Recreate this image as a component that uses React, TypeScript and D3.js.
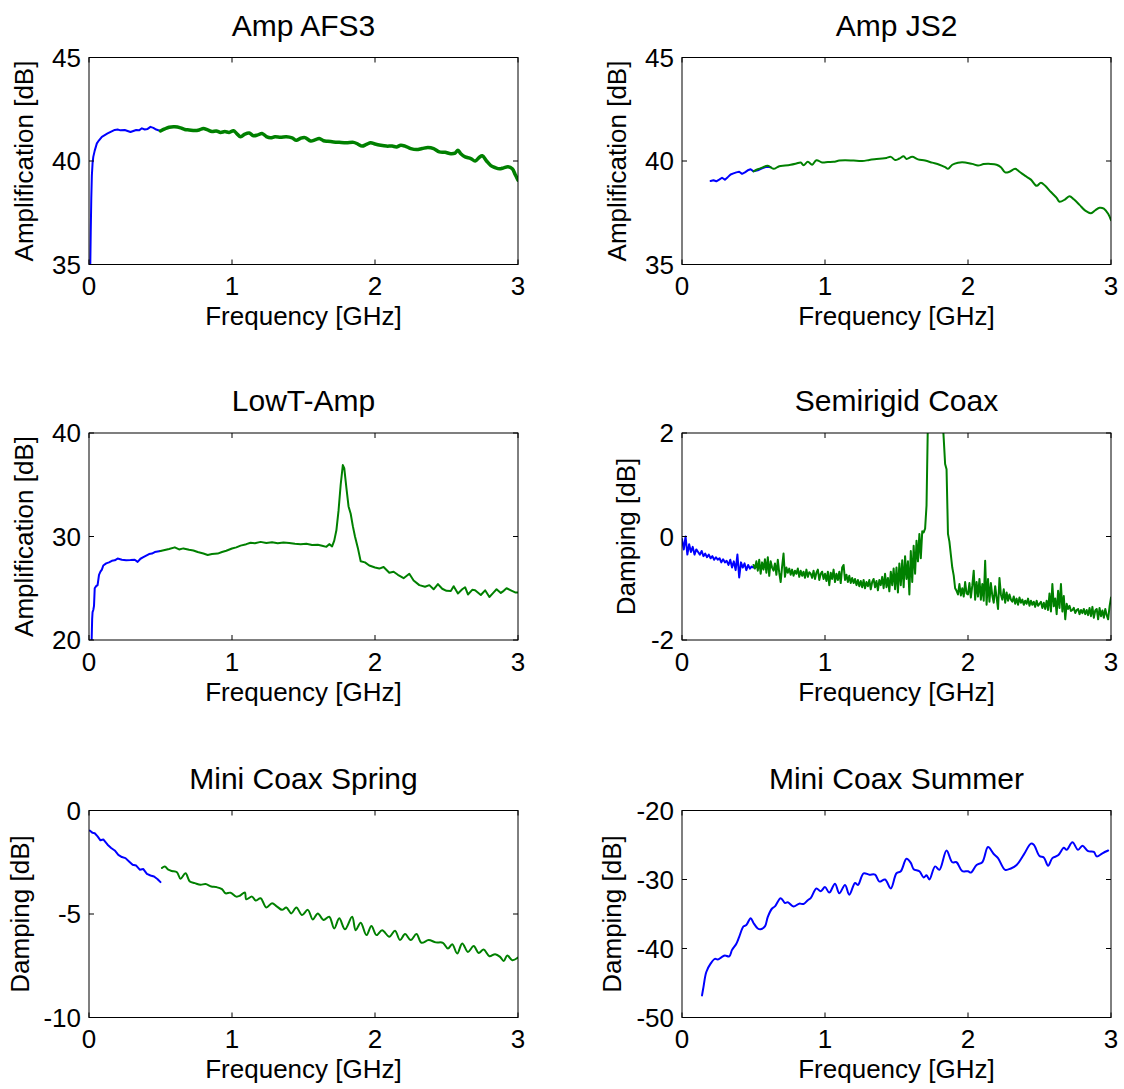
import React from 'react';
import * as d3 from 'd3';

type Pt = [number, number];

const xTicks = [0, 1, 2, 3];

// ---- Amp AFS3 ----
const afs3Blue: Pt[] = [[0.008,34.5],[0.012,36.5],[0.016,38.2],[0.02,39.3],[0.025,39.9],[0.03,40.2],[0.04,40.5],[0.055,40.85],[0.07,41.0],[0.09,41.17],[0.11,41.25],[0.13,41.33],[0.155,41.42],[0.18,41.5],[0.2,41.52],[0.22,41.48],[0.25,41.5],[0.27,41.45],[0.29,41.4],[0.31,41.45],[0.33,41.5],[0.35,41.48],[0.37,41.58],[0.39,41.52],[0.41,41.55],[0.43,41.65],[0.45,41.6],[0.47,41.52],[0.5,41.45]];
const afs3Green: Pt[] = [[0.5,41.45],[0.53,41.55],[0.56,41.63],[0.6,41.65],[0.64,41.6],[0.67,41.52],[0.7,41.5],[0.74,41.47],[0.77,41.5],[0.8,41.57],[0.83,41.5],[0.86,41.42],[0.89,41.45],[0.92,41.38],[0.95,41.42],[0.98,41.38],[1.01,41.46],[1.03,41.35],[1.06,41.17],[1.09,41.3],[1.12,41.35],[1.15,41.22],[1.18,41.26],[1.21,41.33],[1.24,41.18],[1.27,41.12],[1.3,41.17],[1.34,41.15],[1.38,41.17],[1.42,41.12],[1.45,41.0],[1.48,41.1],[1.51,41.13],[1.55,40.97],[1.58,41.02],[1.61,41.09],[1.64,40.98],[1.67,40.95],[1.71,40.92],[1.75,40.9],[1.8,40.88],[1.85,40.9],[1.88,40.82],[1.91,40.72],[1.94,40.8],[1.97,40.88],[2.0,40.82],[2.04,40.76],[2.08,40.72],[2.12,40.72],[2.15,40.68],[2.18,40.76],[2.21,40.72],[2.25,40.6],[2.29,40.55],[2.33,40.6],[2.37,40.65],[2.41,40.6],[2.45,40.44],[2.49,40.42],[2.53,40.35],[2.56,40.38],[2.58,40.52],[2.6,40.35],[2.63,40.2],[2.67,40.12],[2.7,40.0],[2.73,40.18],[2.75,40.25],[2.78,40.0],[2.81,39.78],[2.84,39.68],[2.87,39.62],[2.9,39.67],[2.93,39.72],[2.96,39.62],[2.98,39.35],[3.0,39.07]];

// ---- Amp JS2 ----
const js2Blue: Pt[] = [[0.2,39.03],[0.22,39.07],[0.24,39.02],[0.26,39.1],[0.28,39.19],[0.3,39.1],[0.32,39.22],[0.34,39.35],[0.36,39.4],[0.38,39.45],[0.4,39.48],[0.42,39.38],[0.44,39.45],[0.46,39.55],[0.48,39.6],[0.5,39.5],[0.53,39.55],[0.56,39.65],[0.59,39.72],[0.62,39.7]];
const js2Green: Pt[] = [[0.5,39.5],[0.53,39.6],[0.56,39.68],[0.6,39.77],[0.64,39.62],[0.68,39.75],[0.72,39.78],[0.76,39.82],[0.8,39.88],[0.83,39.93],[0.85,39.8],[0.88,39.96],[0.91,39.82],[0.94,40.04],[0.98,39.93],[1.02,39.95],[1.06,39.96],[1.1,40.02],[1.14,40.04],[1.2,40.02],[1.26,40.0],[1.31,40.05],[1.36,40.1],[1.4,40.12],[1.43,40.15],[1.46,40.2],[1.49,40.05],[1.52,40.12],[1.55,40.23],[1.57,40.1],[1.61,40.2],[1.65,40.08],[1.7,40.02],[1.75,39.92],[1.8,39.82],[1.84,39.7],[1.86,39.62],[1.89,39.82],[1.93,39.92],[1.98,39.93],[2.03,39.86],[2.07,39.78],[2.11,39.85],[2.16,39.86],[2.2,39.82],[2.23,39.7],[2.26,39.45],[2.29,39.48],[2.33,39.62],[2.36,39.48],[2.4,39.28],[2.44,39.1],[2.48,38.8],[2.51,38.95],[2.54,38.8],[2.58,38.5],[2.62,38.22],[2.64,38.03],[2.68,38.15],[2.71,38.3],[2.74,38.15],[2.78,37.88],[2.82,37.6],[2.86,37.48],[2.89,37.62],[2.92,37.74],[2.95,37.7],[2.98,37.45],[3.0,37.14]];

// ---- LowT-Amp ----
const lowtBlue: Pt[] = [[0.015,18],[0.022,22.0],[0.025,22.7],[0.03,22.9],[0.035,23.3],[0.04,25.0],[0.05,25.2],[0.06,25.3],[0.07,26.3],[0.08,26.6],[0.09,26.8],[0.1,27.2],[0.12,27.4],[0.14,27.5],[0.16,27.65],[0.18,27.7],[0.2,27.87],[0.23,27.75],[0.26,27.7],[0.29,27.72],[0.32,27.75],[0.34,27.55],[0.36,27.85],[0.38,28.0],[0.4,28.15],[0.42,28.3],[0.44,28.35],[0.46,28.5],[0.48,28.55],[0.5,28.6]];
const lowtGreen: Pt[] = [[0.5,28.6],[0.53,28.7],[0.56,28.8],[0.6,28.95],[0.63,28.75],[0.66,28.85],[0.7,28.72],[0.73,28.65],[0.76,28.5],[0.8,28.35],[0.83,28.22],[0.86,28.3],[0.9,28.35],[0.93,28.5],[0.96,28.62],[1.0,28.84],[1.03,28.95],[1.06,29.12],[1.1,29.26],[1.13,29.4],[1.16,29.35],[1.2,29.48],[1.24,29.38],[1.28,29.45],[1.32,29.35],[1.36,29.42],[1.4,29.38],[1.44,29.3],[1.48,29.26],[1.52,29.3],[1.56,29.18],[1.6,29.2],[1.63,29.1],[1.66,29.0],[1.68,29.26],[1.7,29.05],[1.715,29.6],[1.73,30.6],[1.745,32.5],[1.76,35.0],[1.775,36.9],[1.785,36.6],[1.8,34.7],[1.815,32.9],[1.83,32.2],[1.845,31.0],[1.86,30.0],[1.88,28.9],[1.9,27.6],[1.93,27.5],[1.96,27.2],[2.0,27.0],[2.03,26.9],[2.06,27.05],[2.1,26.5],[2.13,26.6],[2.16,26.3],[2.2,25.97],[2.24,26.4],[2.27,25.75],[2.31,25.3],[2.35,25.15],[2.38,25.3],[2.41,24.9],[2.44,25.4],[2.47,24.95],[2.5,24.75],[2.53,24.74],[2.55,25.2],[2.58,24.5],[2.61,24.9],[2.63,25.1],[2.65,24.4],[2.68,24.85],[2.7,24.8],[2.74,24.35],[2.77,24.8],[2.8,24.16],[2.83,24.6],[2.85,24.9],[2.88,24.55],[2.9,24.75],[2.92,25.0],[2.95,24.8],[2.98,24.6],[3.0,24.6]];

// ---- Semirigid Coax (uniform frequency grids) ----
const semiBlueStart = 0, semiBlueStep = 0.0125;
const semiBlueVals = [-0.05,-0.25,0.0,-0.35,-0.15,-0.3,-0.2,-0.35,-0.25,-0.3,
  -0.35,-0.28,-0.38,-0.33,-0.4,-0.35,-0.42,-0.38,-0.45,-0.4,
  -0.45,-0.42,-0.5,-0.44,-0.5,-0.47,-0.55,-0.45,-0.6,-0.48,
  -0.65,-0.35,-0.79,-0.5,-0.6,-0.52,-0.65,-0.55,-0.62,-0.58,
  -0.6];
const semiGreenStart = 0.5, semiGreenStep = 0.01;
const semiGreenVals = [
  -0.55,-0.62,-0.48,-0.66,-0.45,-0.72,-0.50,-0.64,-0.44,-0.70,
  -0.40,-0.76,-0.48,-0.60,-0.66,-0.52,-0.74,-0.45,-0.70,-0.88,
  -0.58,-0.33,-0.78,-0.60,-0.70,-0.62,-0.74,-0.64,-0.76,-0.66,
  -0.72,-0.62,-0.78,-0.66,-0.76,-0.68,-0.80,-0.64,-0.78,-0.69,
  -0.72,-0.80,-0.66,-0.82,-0.70,-0.64,-0.84,-0.72,-0.68,-0.82,
  -0.72,-0.86,-0.68,-0.94,-0.70,-0.82,-0.64,-0.88,-0.72,-0.84,
  -0.68,-0.90,-0.60,-0.55,-0.84,-0.74,-0.88,-0.76,-0.90,-0.80,
  -0.90,-0.82,-0.94,-0.84,-0.96,-0.86,-0.98,-0.84,-1.00,-0.88,
  -0.96,-0.84,-1.02,-0.88,-0.82,-0.98,-0.86,-1.04,-0.84,-0.94,
  -0.78,-1.00,-0.72,-0.98,-0.80,-1.06,-0.68,-0.94,-0.62,-1.02,
  -0.60,-1.08,-0.52,-0.94,-0.46,-0.98,-0.38,-0.82,-0.48,-1.12,
  -0.28,-0.88,-0.18,-0.72,-0.08,-0.48,0.05,-0.42,0.10,0.08,
  0.15,0.60,2.30,4.00,5.00,5.50,5.80,5.60,5.20,4.50,
  4.00,3.20,2.40,1.90,1.40,1.30,0.05,-0.10,-0.35,-0.60,
  -0.75,-1.00,-1.05,-1.12,-0.92,-1.14,-1.00,-1.16,-0.88,-1.10,
  -1.12,-0.90,-1.18,-0.95,-0.66,-1.22,-0.88,-1.16,-0.82,-1.22,
  -0.92,-1.24,-0.47,-1.32,-0.82,-1.26,-0.90,-1.14,-1.28,-0.96,
  -1.18,-1.40,-0.80,-1.12,-1.22,-1.02,-1.28,-1.08,-1.24,-1.12,
  -1.22,-1.26,-1.16,-1.30,-1.20,-1.32,-1.18,-1.28,-1.22,-1.32,
  -1.24,-1.30,-1.20,-1.34,-1.24,-1.32,-1.26,-1.36,-1.24,-1.34,
  -1.30,-1.26,-1.38,-1.28,-1.40,-1.24,-1.42,-1.10,-1.45,-0.92,
  -1.35,-1.20,-1.50,-1.05,-1.38,-0.92,-1.45,-1.15,-1.60,-1.30,
  -1.40,-1.34,-1.44,-1.42,-1.38,-1.48,-1.42,-1.40,-1.50,-1.42,
  -1.48,-1.40,-1.50,-1.42,-1.52,-1.38,-1.54,-1.36,-1.57,-1.43,
  -1.40,-1.60,-1.38,-1.54,-1.43,-1.57,-1.40,-1.52,-1.60,-1.35,-1.18];

// ---- Mini Coax Spring ----
const springBlue: Pt[] = [[0.005,-0.97],[0.025,-1.08],[0.04,-1.1],[0.06,-1.25],[0.08,-1.44],[0.1,-1.4],[0.13,-1.65],[0.155,-1.81],[0.18,-1.93],[0.205,-2.14],[0.23,-2.25],[0.255,-2.3],[0.28,-2.46],[0.305,-2.62],[0.33,-2.66],[0.355,-2.86],[0.38,-2.83],[0.405,-3.06],[0.43,-3.14],[0.455,-3.19],[0.48,-3.32],[0.5,-3.46]];
const springGreen: Pt[] = [[0.51,-2.78],[0.53,-2.7],[0.555,-2.86],[0.58,-2.92],[0.615,-2.98],[0.64,-3.3],[0.675,-3.03],[0.705,-3.43],[0.74,-3.51],[0.78,-3.59],[0.815,-3.55],[0.855,-3.67],[0.89,-3.7],[0.93,-3.8],[0.955,-4.0],[0.99,-3.97],[1.03,-4.16],[1.055,-4.12],[1.09,-3.96],[1.1,-4.29],[1.14,-4.16],[1.165,-4.35],[1.2,-4.24],[1.24,-4.69],[1.28,-4.48],[1.315,-4.64],[1.35,-4.8],[1.38,-4.69],[1.415,-4.97],[1.45,-4.68],[1.49,-5.05],[1.53,-4.8],[1.565,-5.26],[1.6,-4.97],[1.64,-5.29],[1.68,-5.13],[1.715,-5.7],[1.75,-5.21],[1.79,-5.74],[1.84,-5.13],[1.865,-5.78],[1.9,-5.42],[1.94,-6.02],[1.975,-5.58],[2.01,-6.02],[2.05,-5.78],[2.1,-6.1],[2.14,-5.81],[2.175,-6.26],[2.21,-5.97],[2.25,-6.26],[2.29,-5.97],[2.325,-6.39],[2.375,-6.26],[2.425,-6.37],[2.475,-6.39],[2.51,-6.67],[2.54,-6.46],[2.575,-6.91],[2.61,-6.42],[2.65,-6.83],[2.69,-6.55],[2.725,-6.88],[2.76,-6.72],[2.8,-7.04],[2.84,-6.94],[2.875,-7.07],[2.9,-7.27],[2.925,-7.0],[2.96,-7.23],[3.0,-7.1]];

// ---- Mini Coax Summer ----
const summerBlue: Pt[] = [[0.14,-46.8],[0.15,-45.6],[0.17,-43.4],[0.2,-42.2],[0.23,-41.5],[0.25,-41.6],[0.28,-41.2],[0.3,-41.0],[0.33,-41.15],[0.35,-40.2],[0.38,-39.3],[0.4,-38.3],[0.43,-36.8],[0.45,-36.6],[0.48,-35.6],[0.5,-36.3],[0.53,-37.1],[0.55,-37.2],[0.58,-36.8],[0.6,-35.4],[0.63,-34.2],[0.65,-33.9],[0.69,-32.7],[0.72,-33.4],[0.74,-33.3],[0.78,-33.9],[0.82,-33.5],[0.85,-33.55],[0.88,-33.0],[0.9,-32.7],[0.94,-31.3],[0.97,-31.7],[1.0,-31.1],[1.03,-31.9],[1.07,-30.6],[1.1,-32.0],[1.14,-30.8],[1.17,-32.2],[1.21,-30.5],[1.23,-30.8],[1.27,-29.1],[1.31,-29.3],[1.35,-29.3],[1.38,-30.3],[1.42,-30.0],[1.46,-31.3],[1.5,-29.1],[1.53,-28.8],[1.57,-27.0],[1.6,-27.6],[1.62,-28.5],[1.66,-28.8],[1.69,-29.7],[1.71,-29.4],[1.73,-30.0],[1.77,-28.1],[1.8,-28.6],[1.85,-25.8],[1.89,-27.5],[1.92,-27.5],[1.96,-28.8],[2.0,-28.8],[2.02,-29.0],[2.06,-27.9],[2.1,-27.5],[2.14,-25.3],[2.18,-26.3],[2.21,-26.9],[2.26,-28.6],[2.3,-28.4],[2.34,-27.9],[2.39,-26.4],[2.44,-24.8],[2.46,-24.95],[2.5,-26.6],[2.53,-26.8],[2.56,-28.0],[2.59,-26.9],[2.63,-26.5],[2.67,-25.4],[2.69,-25.7],[2.73,-24.6],[2.77,-25.7],[2.8,-25.1],[2.84,-25.9],[2.88,-26.0],[2.9,-26.65],[2.94,-26.2],[2.98,-25.8]];

const semiBlue: Pt[] = semiBlueVals.map((v, i) => [semiBlueStart + i * semiBlueStep, v]);
const semiGreen: Pt[] = semiGreenVals.map((v, i) => [semiGreenStart + i * semiGreenStep, v]);

const BLUE = '#0000ff';
const GREEN = '#008000';
const FONT = '"Liberation Sans", Arial, Helvetica, sans-serif';

const W = 429, H = 207;
const colX = [89, 682];
const rowY = [57.5, 433, 810.5];

type Series = { data: Pt[]; color: string; width: number; smooth?: boolean };
type PanelCfg = {
  title: string; ylabel: string; yDomain: [number, number]; yTicks: number[];
  series: Series[]; col: number; row: number; ylabelOffset: number;
};

const panels: PanelCfg[] = [
  { title: 'Amp AFS3', ylabel: 'Amplification [dB]', yDomain: [35, 45], yTicks: [35, 40, 45],
    series: [{ data: afs3Blue, color: BLUE, width: 2 }, { data: afs3Green, color: GREEN, width: 3.5, smooth: true }],
    col: 0, row: 0, ylabelOffset: 56 },
  { title: 'Amp JS2', ylabel: 'Amplification [dB]', yDomain: [35, 45], yTicks: [35, 40, 45],
    series: [{ data: js2Blue, color: BLUE, width: 2 }, { data: js2Green, color: GREEN, width: 2, smooth: true }],
    col: 1, row: 0, ylabelOffset: 56 },
  { title: 'LowT-Amp', ylabel: 'Amplification [dB]', yDomain: [20, 40], yTicks: [20, 30, 40],
    series: [{ data: lowtBlue, color: BLUE, width: 2 }, { data: lowtGreen, color: GREEN, width: 2 }],
    col: 0, row: 1, ylabelOffset: 56 },
  { title: 'Semirigid Coax', ylabel: 'Damping [dB]', yDomain: [-2, 2], yTicks: [-2, 0, 2],
    series: [{ data: semiBlue, color: BLUE, width: 2 }, { data: semiGreen, color: GREEN, width: 2 }],
    col: 1, row: 1, ylabelOffset: 47 },
  { title: 'Mini Coax Spring', ylabel: 'Damping [dB]', yDomain: [-10, 0], yTicks: [-10, -5, 0],
    series: [{ data: springBlue, color: BLUE, width: 2 }, { data: springGreen, color: GREEN, width: 2, smooth: true }],
    col: 0, row: 2, ylabelOffset: 60 },
  { title: 'Mini Coax Summer', ylabel: 'Damping [dB]', yDomain: [-50, -20], yTicks: [-50, -40, -30, -20],
    series: [{ data: summerBlue, color: BLUE, width: 2, smooth: true }],
    col: 1, row: 2, ylabelOffset: 61 },
];

const fmt = (v: number) => (v < 0 ? '-' + Math.abs(v) : String(v));

function Panel({ p, idx }: { p: PanelCfg; idx: number }) {
  const x0 = colX[p.col];
  const y0 = rowY[p.row];
  const x = d3.scaleLinear().domain([0, 3]).range([x0, x0 + W]);
  const y = d3.scaleLinear().domain(p.yDomain).range([y0 + H, y0]);
  const clipId = `clip${idx}`;
  const tl = 5;
  return (
    <g>
      <defs>
        <clipPath id={clipId}>
          <rect x={x0} y={y0} width={W} height={H} />
        </clipPath>
      </defs>
      <rect x={x0} y={y0} width={W} height={H} fill="#fff" />
      <g clipPath={`url(#${clipId})`}>
        {p.series.map((s, i) => {
          const line = d3.line<Pt>().x(d => x(d[0])).y(d => y(d[1]))
            .curve(s.smooth ? d3.curveCatmullRom.alpha(0.5) : d3.curveLinear);
          return (
            <path key={i} d={line(s.data) || ''} fill="none" stroke={s.color}
              strokeWidth={s.width} strokeLinejoin="round" strokeLinecap="round" />
          );
        })}
      </g>
      <rect x={x0} y={y0} width={W} height={H} fill="none" stroke="#000" strokeWidth={1} />
      {xTicks.map(t => (
        <g key={'x' + t}>
          <line x1={x(t)} x2={x(t)} y1={y0 + H} y2={y0 + H - tl} stroke="#000" />
          <line x1={x(t)} x2={x(t)} y1={y0} y2={y0 + tl} stroke="#000" />
          <text x={x(t)} y={y0 + H + 30.5} textAnchor="middle" fontSize={26} fontFamily={FONT}>{fmt(t)}</text>
        </g>
      ))}
      {p.yTicks.map(t => (
        <g key={'y' + t}>
          <line x1={x0} x2={x0 + tl} y1={y(t)} y2={y(t)} stroke="#000" />
          <line x1={x0 + W} x2={x0 + W - tl} y1={y(t)} y2={y(t)} stroke="#000" />
          <text x={x0 - 8} y={y(t)} dy="0.36em" textAnchor="end" fontSize={26} fontFamily={FONT}>{fmt(t)}</text>
        </g>
      ))}
      <text x={x0 + W / 2} y={y0 + H + 60.5} textAnchor="middle" fontSize={26} fontFamily={FONT}>Frequency [GHz]</text>
      <text transform={`translate(${x0 - p.ylabelOffset},${y0 + H / 2}) rotate(-90)`} textAnchor="middle"
        fontSize={26} fontFamily={FONT}>{p.ylabel}</text>
      <text x={x0 + W / 2} y={y0 - 22} textAnchor="middle" fontSize={30} fontFamily={FONT}>{p.title}</text>
    </g>
  );
}

export default function App() {
  return (
    <svg width={1124} height={1089} style={{ position: 'absolute', left: 0, top: 0, background: '#fff' }}>
      <rect x={0} y={0} width={1124} height={1089} fill="#fff" />
      {panels.map((p, i) => <Panel key={i} p={p} idx={i} />)}
    </svg>
  );
}
